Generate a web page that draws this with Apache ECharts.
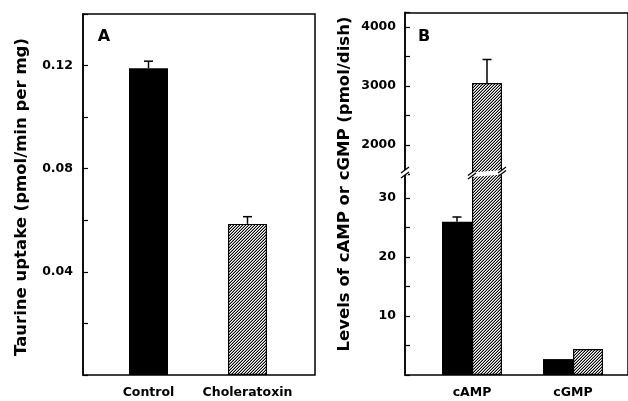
<!DOCTYPE html>
<html>
<head>
<meta charset="utf-8">
<script src="https://cdn.jsdelivr.net/npm/echarts@6/dist/echarts.min.js"></script>
<style>
  html, body { margin: 0; padding: 0; background: #fff; }
  #chart { width: 628px; height: 401px; }
</style>
</head>
<body>
<div id="chart"></div>
<script>
// Panel A: taurine uptake
const categoriesA = ['Control', 'Choleratoxin'];
const uptakeMean = [0.119, 0.0586];
const uptakeErr = [0.0027, 0.0028];
const tickLabelsA = ['0.04', '0.08', '0.12'];

// Panel B: cyclic nucleotide levels
const categoriesB = ['cAMP', 'cGMP'];
const controlLevels = [26, 2.7];
const controlErr = [0.8, 0];
const toxinLevels = [3050, 4.4];
const toxinErr = [400, 0];
const tickLabelsBLow = ['10', '20', '30'];
const tickLabelsBHigh = ['2000', '3000', '4000'];

const FONT = '"DejaVu Sans", sans-serif';
const BAR_B = 30;

// diagonal hatch tile ("/" direction)
function hatchPattern() {
  const c = document.createElement('canvas');
  c.width = 3; c.height = 3;
  const ctx = c.getContext('2d');
  ctx.fillStyle = '#fff';
  ctx.fillRect(0, 0, 3, 3);
  for (let x = 0; x < 3; x++) {
    for (let y = 0; y < 3; y++) {
      const k = (x + y) % 3;
      if (k === 2) { ctx.fillStyle = '#000'; ctx.fillRect(x, y, 1, 1); }
      else if (k === 1) { ctx.fillStyle = '#9a9a9a'; ctx.fillRect(x, y, 1, 1); }
    }
  }
  return { image: c, repeat: 'repeat' };
}
const hatch = hatchPattern();

function errorBar(offset) {
  return function (params, api) {
    const x = api.value(0), v = api.value(1), e = api.value(2);
    if (!e) return null;
    const base = api.coord([x, v]);
    const top = api.coord([x, v + e]);
    const cx = base[0] + offset;
    const st = { stroke: '#000', lineWidth: 1.5 };
    return {
      type: 'group',
      children: [
        { type: 'line', shape: { x1: cx, y1: base[1], x2: cx, y2: top[1] }, style: st },
        { type: 'line', shape: { x1: cx - 4.5, y1: top[1], x2: cx + 4.5, y2: top[1] }, style: st }
      ]
    };
  };
}

function labelFrom(list, digits) {
  return function (v) {
    const s = digits ? v.toFixed(digits) : String(Math.round(v));
    return list.indexOf(s) >= 0 ? s : '';
  };
}

const axisLabelStyle = { color: '#000', fontFamily: FONT, fontWeight: 'bold', fontSize: 12.5 };

// layout of panel B break
const B_LEFT = 421.5, B_WIDTH = 202, B_BOTTOM = 375, BREAK_Y = 174.5, B_TOP = 12.25;

const chart = echarts.init(document.getElementById('chart'), null, { renderer: 'canvas' });

const option = {
  animation: false,
  backgroundColor: '#fff',
  grid: [
    // A: bars
    { left: 99, top: 14, width: 198, height: 361 },
    // A: frame
    { left: 83, top: 14, width: 232, height: 361, show: true, borderColor: '#000', borderWidth: 1.5, backgroundColor: 'transparent' },
    // B: lower segment
    { left: B_LEFT, top: BREAK_Y, width: B_WIDTH, height: B_BOTTOM - BREAK_Y },
    // B: upper segment
    { left: B_LEFT, top: B_TOP, width: B_WIDTH, height: BREAK_Y - B_TOP },
    // B: frame
    { left: 405, top: 13, width: 240, height: 362, show: true, borderColor: '#000', borderWidth: 1.5, backgroundColor: 'transparent' }
  ],
  xAxis: [
    { gridIndex: 0, type: 'category', data: categoriesA, axisLine: { show: false }, axisTick: { show: false },
      axisLabel: Object.assign({ margin: 11, interval: 0, hideOverlap: false }, axisLabelStyle) },
    { gridIndex: 1, type: 'category', data: categoriesA, show: false },
    { gridIndex: 2, type: 'category', data: categoriesB, axisLine: { show: false }, axisTick: { show: false },
      axisLabel: Object.assign({ margin: 11, interval: 0, hideOverlap: false }, axisLabelStyle) },
    { gridIndex: 3, type: 'category', data: categoriesB, show: false },
    { gridIndex: 4, type: 'category', data: categoriesB, show: false }
  ],
  yAxis: [
    { gridIndex: 0, type: 'value', min: 0, max: 0.14, interval: 0.02, offset: 16,
      splitLine: { show: false },
      axisLine: { show: true, lineStyle: { color: '#000', width: 1.5 } },
      axisTick: { show: true, inside: true, length: 5, lineStyle: { color: '#000', width: 1.2 } },
      axisLabel: Object.assign({ margin: 10, formatter: labelFrom(tickLabelsA, 2) }, axisLabelStyle) },
    { gridIndex: 1, type: 'value', min: 0, max: 0.14, show: false, splitLine: { show: false } },
    { gridIndex: 2, type: 'value', min: 0, max: 34, interval: 5, offset: 16.5,
      splitLine: { show: false },
      axisLine: { show: true, lineStyle: { color: '#000', width: 1.5 } },
      axisTick: { show: true, inside: true, length: 5, lineStyle: { color: '#000', width: 1.2 } },
      axisLabel: Object.assign({ margin: 9, formatter: labelFrom(tickLabelsBLow, 0) }, axisLabelStyle) },
    { gridIndex: 3, type: 'value', min: 1500, max: 4250, interval: 500, offset: 16.5,
      splitLine: { show: false },
      axisLine: { show: true, lineStyle: { color: '#000', width: 1.5 } },
      axisTick: { show: true, inside: true, length: 5, lineStyle: { color: '#000', width: 1.2 } },
      axisLabel: Object.assign({ margin: 9, formatter: labelFrom(tickLabelsBHigh, 0) }, axisLabelStyle) },
    { gridIndex: 4, type: 'value', show: false, splitLine: { show: false } }
  ],
  series: [
    // Panel A bars
    { type: 'bar', xAxisIndex: 0, yAxisIndex: 0, barWidth: 39,
      data: uptakeMean.map((v, i) => ({
        value: v,
        itemStyle: i === 0 ? { color: '#000' } : { color: hatch, borderColor: '#000', borderWidth: 1.2 }
      })) },
    { type: 'custom', xAxisIndex: 0, yAxisIndex: 0, renderItem: errorBar(0), z: 3,
      encode: { x: 0, y: 1 },
      data: uptakeMean.map((v, i) => [i, v, uptakeErr[i]]) },

    // Panel B lower segment
    { type: 'bar', xAxisIndex: 2, yAxisIndex: 2, barWidth: BAR_B, barGap: '0%', clip: true,
      itemStyle: { color: '#000' }, data: controlLevels },
    { type: 'bar', xAxisIndex: 2, yAxisIndex: 2, barWidth: BAR_B, barGap: '0%', clip: true,
      itemStyle: { color: hatch, borderColor: '#000', borderWidth: 1.2 }, data: toxinLevels },
    { type: 'custom', xAxisIndex: 2, yAxisIndex: 2, renderItem: errorBar(-BAR_B / 2), z: 3, clip: true,
      encode: { x: 0, y: 1 },
      data: controlLevels.map((v, i) => [i, v, controlErr[i]]) },

    // Panel B upper segment
    { type: 'bar', xAxisIndex: 3, yAxisIndex: 3, barWidth: BAR_B, barGap: '0%', clip: true,
      itemStyle: { color: '#000' }, data: controlLevels },
    { type: 'bar', xAxisIndex: 3, yAxisIndex: 3, barWidth: BAR_B, barGap: '0%', clip: true,
      itemStyle: { color: hatch, borderColor: '#000', borderWidth: 1.2 }, data: toxinLevels },
    { type: 'custom', xAxisIndex: 3, yAxisIndex: 3, renderItem: errorBar(BAR_B / 2), z: 3, clip: true,
      encode: { x: 0, y: 1 },
      data: toxinLevels.map((v, i) => (v > 1500 ? [i, v, toxinErr[i]] : [i, v, 0])) }
  ]
};

chart.setOption(option);

// axis break marks and panel labels
const camp = chart.convertToPixel({ xAxisIndex: 2 }, 'cAMP');
const barL = camp, barR = camp + BAR_B;
const axisX = 405;
const by = BREAK_Y - 1.5;
const slash = (x, y) => ({ type: 'line', z: 20,
  shape: { x1: x - 4, y1: y + 3, x2: x + 4, y2: y - 3 },
  style: { stroke: '#000', lineWidth: 1.3 } });

chart.setOption({
  graphic: [
    { type: 'rect', z: 19, shape: { x: axisX - 3, y: by - 3, width: 6, height: 5 }, style: { fill: '#fff' } },
    slash(axisX, by - 3), slash(axisX, by + 2),
    { type: 'polygon', z: 19,
      shape: { points: [[barL - 1, by - 0.5], [barR + 1, by - 3], [barR + 1, by + 1.5], [barL - 1, by + 4]] },
      style: { fill: '#fff' } },
    slash(barL, by - 0.5), slash(barL, by + 3), slash(barR, by - 3), slash(barR, by + 0.5),
    { type: 'text', x: 104, y: 37, z: 20,
      style: { text: 'A', font: 'bold 16px ' + FONT, fill: '#000', align: 'center', verticalAlign: 'middle' } },
    { type: 'text', x: 424, y: 37, z: 20,
      style: { text: 'B', font: 'bold 16px ' + FONT, fill: '#000', align: 'center', verticalAlign: 'middle' } },
    { type: 'text', x: 22, y: 197, rotation: Math.PI / 2, z: 20,
      style: { text: 'Taurine uptake (pmol/min per mg)', font: 'bold 16.5px ' + FONT, fill: '#000',
               align: 'center', verticalAlign: 'middle' } },
    { type: 'text', x: 345, y: 184, rotation: Math.PI / 2, z: 20,
      style: { text: 'Levels of cAMP or cGMP (pmol/dish)', font: 'bold 16.5px ' + FONT, fill: '#000',
               align: 'center', verticalAlign: 'middle' } }
  ]
});
</script>
</body>
</html>
